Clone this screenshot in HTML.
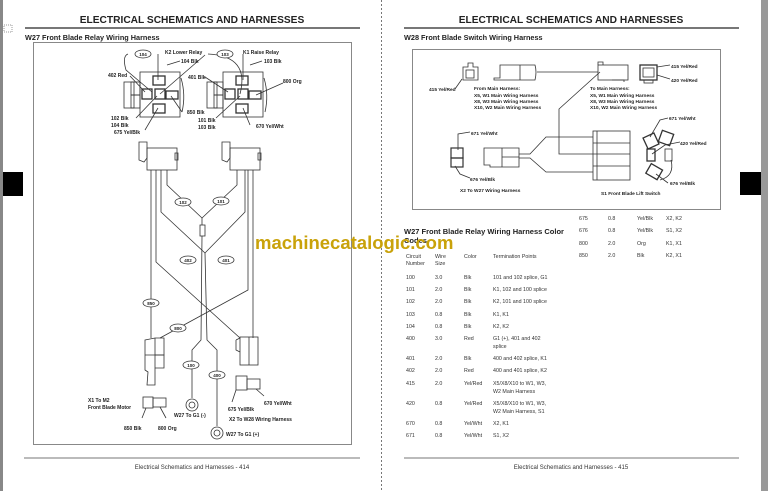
<!DOCTYPE html>
<html><head><meta charset="utf-8"><style>
html,body{margin:0;padding:0;background:#fff}
svg{display:block}
text{font-family:"Liberation Sans",Arial,sans-serif}
.b{font-weight:bold}
</style></head><body>
<svg width="768" height="491" viewBox="0 0 768 491" xmlns="http://www.w3.org/2000/svg">
<rect width="768" height="491" fill="#fff"/>
<rect x="0" y="0" width="3" height="491" fill="#888"/>
<rect x="3" y="172" width="20" height="24" fill="#000"/>
<line x1="381.5" y1="0" x2="381.5" y2="491" stroke="#777" stroke-dasharray="2,2"/>
<rect x="761" y="0" width="7" height="491" fill="#999"/>
<rect x="740" y="172" width="21" height="23" fill="#000"/>
<rect x="4" y="25" width="8" height="7" fill="none" stroke="#999" stroke-dasharray="1,1"/>

<!-- LEFT PAGE -->
<text x="192" y="23" font-size="10.2" class="b" text-anchor="middle" fill="#222">ELECTRICAL   SCHEMATICS AND HARNESSES</text>
<rect x="25" y="27" width="335" height="2" fill="#777"/>
<text x="25" y="40" font-size="7.3" class="b" fill="#222">W27 Front Blade Relay Wiring Harness</text>
<rect x="33.5" y="42.5" width="318" height="402" fill="none" stroke="#888"/>
<rect x="24" y="457.5" width="336" height="1" fill="#777"/>
<text x="192" y="469" font-size="6" text-anchor="middle" fill="#333">Electrical   Schematics and Harnesses  - 414</text>

<g stroke="#333" fill="none" stroke-width="0.8">
<rect x="140" y="72" width="40" height="45"/>
<rect x="124" y="82" width="10" height="26"/><rect x="131" y="82" width="9" height="13"/><rect x="131" y="95" width="9" height="13"/>
<rect x="153" y="76" width="12" height="9" stroke-width="1.3"/>
<rect x="142" y="89" width="10" height="10" stroke-width="1.3"/>
<rect x="155" y="89" width="10" height="10" stroke-width="1.3"/>
<rect x="166" y="91" width="12" height="8" stroke-width="1.3"/>
<rect x="153" y="104" width="12" height="9" stroke-width="1.3"/>
<path d="M181 78 Q186 95 182 112"/>
<rect x="223" y="72" width="40" height="45"/>
<rect x="207" y="82" width="10" height="26"/><rect x="214" y="82" width="9" height="13"/><rect x="214" y="95" width="9" height="13"/>
<rect x="236" y="76" width="12" height="9" stroke-width="1.3"/>
<rect x="225" y="89" width="10" height="10" stroke-width="1.3"/>
<rect x="238" y="89" width="10" height="10" stroke-width="1.3"/>
<rect x="249" y="91" width="12" height="8" stroke-width="1.3"/>
<rect x="236" y="104" width="12" height="9" stroke-width="1.3"/>
<path d="M264 78 Q269 95 265 112"/>
<path d="M128 54 Q122 56 126 70 L152 92"/><path d="M158 54 L158 80"/>
<path d="M167 65 L180 61"/><path d="M205 55 L160 94"/>
<path d="M130 76 L145 92"/><path d="M136 118 L157 96"/><path d="M145 130 L158 108"/><path d="M182 112 L171 96"/>
<path d="M208 54 Q250 56 240 94"/><path d="M243 54 L243 80"/><path d="M262 61 L250 65"/>
<path d="M205 77 L228 92"/><path d="M216 118 L240 96"/><path d="M250 125 L243 108"/><path d="M283 83 L256 95"/>
<path d="M139 142 L147 142 L147 158 L144 162 L139 160 Z"/><rect x="147" y="148" width="30" height="22"/><rect x="175" y="153" width="3" height="7"/>
<path d="M222 142 L230 142 L230 158 L227 162 L222 160 Z"/><rect x="230" y="148" width="30" height="22"/><rect x="258" y="153" width="3" height="7"/>
<path d="M151 170 L151 338"/><path d="M156 170 L156 262 L240 338"/>
<path d="M167 170 L167 185 L202 218 L237 185 L237 170"/>
<path d="M161 170 L161 212 L205 253 L245 212 L245 170"/>
<path d="M248 170 L248 290 L160 338"/><path d="M253 170 L253 338"/>
<rect x="200" y="225" width="5" height="11"/>
<path d="M202 218 L202 225"/><path d="M202 236 L201 340 L192 350 L192 398"/>
<path d="M205 253 L207 340 L217 350 L217 426"/>
<circle cx="192" cy="405" r="6"/><circle cx="192" cy="405" r="3"/>
<circle cx="217" cy="433" r="6"/><circle cx="217" cy="433" r="3"/>
<path d="M145 340 L155 338 L164 338 L164 355 L155 355 L155 385 L147 385 L148 372 L145 370 Z"/><path d="M155 355 L155 338 M145 355 L164 355 L164 368 L155 368"/>
<rect x="240" y="337" width="18" height="28"/><path d="M236 340 L240 338 M236 340 L236 350 L240 352"/><path d="M249 337 L249 365"/>
<rect x="143" y="397" width="10" height="11"/><rect x="153" y="398" width="13" height="9"/>
<path d="M146 408 L142 418 M160 407 L166 418"/>
<rect x="236" y="376" width="11" height="14"/><rect x="247" y="379" width="13" height="10"/>
<path d="M236 390 L232 402 M256 389 L264 396"/>
</g>
<g stroke="#333" fill="#fff" stroke-width="0.8">
<ellipse cx="143" cy="54" rx="8" ry="4"/><ellipse cx="225" cy="54" rx="8" ry="4"/>
<ellipse cx="183" cy="202" rx="8" ry="4"/><ellipse cx="221" cy="201" rx="8" ry="4"/>
<ellipse cx="188" cy="260" rx="8" ry="4"/><ellipse cx="226" cy="260" rx="8" ry="4"/>
<ellipse cx="151" cy="303" rx="8" ry="4"/><ellipse cx="178" cy="328" rx="8" ry="4"/>
<ellipse cx="191" cy="365" rx="8" ry="4"/><ellipse cx="217" cy="375" rx="8" ry="4"/>
</g>
<g font-size="4.5" class="b" fill="#222" text-anchor="middle">
<text x="143" y="56">104</text><text x="225" y="56">103</text>
<text x="183" y="204">102</text><text x="221" y="203">101</text>
<text x="188" y="262">402</text><text x="226" y="262">401</text>
<text x="151" y="305">850</text><text x="178" y="330">800</text>
<text x="191" y="367">100</text><text x="217" y="377">400</text>
</g>
<g font-size="5" class="b" fill="#222">
<text x="165" y="54">K2 Lower Relay</text><text x="243" y="54">K1 Raise Relay</text>
<text x="181" y="63">104 Blk</text><text x="264" y="63">103 Blk</text>
<text x="108" y="77">402 Red</text><text x="188" y="79">401 Blk</text><text x="283" y="83">800 Org</text>
<text x="111" y="120">102 Blk</text><text x="111" y="127">104 Blk</text><text x="114" y="134">675 Yel/Blk</text>
<text x="187" y="114">850 Blk</text><text x="198" y="122">101 Blk</text><text x="198" y="129">103 Blk</text><text x="256" y="128">670 Yel/Wht</text>
<text x="88" y="402">X1 To M2</text><text x="88" y="409">Front Blade Motor</text>
<text x="124" y="430">850 Blk</text><text x="158" y="430">800 Org</text>
<text x="174" y="417">W27 To G1 (-)</text><text x="226" y="436">W27 To G1 (+)</text>
<text x="228" y="411">675 Yel/Blk</text><text x="264" y="405">670 Yel/Wht</text>
<text x="229" y="421">X2 To W28 Wiring Harness</text>
</g>

<!-- RIGHT PAGE -->
<text x="571" y="23" font-size="10.2" class="b" text-anchor="middle" fill="#222">ELECTRICAL   SCHEMATICS AND HARNESSES</text>
<rect x="404" y="27" width="335" height="2" fill="#777"/>
<text x="404" y="40" font-size="7.3" class="b" fill="#222">W28 Front Blade Switch Wiring Harness</text>
<rect x="412.5" y="49.5" width="308" height="160" fill="none" stroke="#888"/>
<g stroke="#333" fill="none" stroke-width="0.8">
<path d="M463 67 L468 67 L468 63 L473 63 L473 67 L478 67 L478 80 L463 80 Z"/><rect x="466" y="70" width="8" height="8"/>
<path d="M462 79 L455 89"/>
<path d="M504 65 L535 65 Q537 72 535 80 L494 80 L494 78 L500 78 L500 65 Z M520 65 L520 80"/>
<path d="M537 72 L598 72"/>
<rect x="598" y="65" width="30" height="15"/><path d="M598 65 L598 62 L603 62 L603 65 M612 80 L624 80 L624 82"/>
<path d="M600 72 L559 109 L559 154 L593 154"/>
<rect x="640" y="65" width="17" height="15" stroke-width="1.3"/><rect x="643" y="68" width="11" height="9"/><rect x="644" y="80" width="9" height="3"/>
<path d="M657 67 L670 65 M657 75 L670 79"/>
<rect x="451" y="148" width="12" height="10" stroke-width="1.2"/><rect x="451" y="158" width="12" height="9" stroke-width="1.2"/>
<path d="M458 150 L458 134 L470 132 M455 166 L460 174 L470 178"/>
<path d="M484 148 L502 148 L502 167 L490 167 L490 165 L484 165 Z M502 148 L519 148 L519 167 L502 167 M502 157 L519 157"/>
<path d="M519 154 L530 154 L546 137 L593 137 M519 158 L530 158 L546 172 L593 172"/>
<rect x="593" y="131" width="37" height="49"/><path d="M593 143 L630 143 M593 154 L630 154 M593 166 L630 166 M597 180 L597 131"/>
<rect x="645" y="135" width="12" height="12" transform="rotate(-25 651 141)" stroke-width="1.3"/>
<rect x="660" y="132" width="12" height="12" transform="rotate(20 666 138)" stroke-width="1.3"/>
<rect x="647" y="149" width="8" height="12" stroke-width="1.3"/><rect x="665" y="149" width="7" height="12"/>
<rect x="648" y="166" width="13" height="11" transform="rotate(30 654 171)" stroke-width="1.3"/>
<path d="M671 160 Q675 176 660 180"/>
<path d="M650 137 L660 120 L668 118 M652 154 L665 145 L680 142 M656 174 L668 183"/>
</g>
<g font-size="4.8" class="b" fill="#222">
<text x="429" y="91">415 Yel/Red</text>
<text x="474" y="90">From Main Harness:</text><text x="474" y="97">X5, W1 Main Wiring Harness</text><text x="474" y="103">X8, W3 Main Wiring Harness</text><text x="474" y="109">X10, W2 Main Wiring Harness</text>
<text x="590" y="90">To Main Harness:</text><text x="590" y="97">X5, W1 Main Wiring Harness</text><text x="590" y="103">X8, W3 Main Wiring Harness</text><text x="590" y="109">X10, W2 Main Wiring Harness</text>
<text x="671" y="68">415 Yel/Red</text><text x="671" y="82">420 Yel/Red</text>
<text x="471" y="135">671 Yel/Wht</text><text x="470" y="181">676 Yel/Blk</text>
<text x="669" y="120">671 Yel/Wht</text><text x="680" y="145">420 Yel/Red</text><text x="670" y="185">676 Yel/Blk</text>
<text x="460" y="192">X2 To W27 Wiring Harness</text><text x="601" y="195">S1 Front Blade Lift Switch</text>
</g>

<text x="404" y="234" font-size="7.5" class="b" fill="#222">W27 Front Blade Relay Wiring Harness Color</text>
<text x="404" y="243" font-size="7.5" class="b" fill="#222">Codes</text>
<text x="255" y="249" font-size="18.5" class="b" fill="#c9a20a">machinecatalogic.com</text>

<g font-size="5.3" fill="#333">
<text x="406" y="258">Circuit</text><text x="406" y="265">Number</text><text x="435" y="258">Wire</text><text x="435" y="265">Size</text><text x="464" y="258">Color</text><text x="493" y="258">Termination Points</text>
<text x="406" y="279">100</text><text x="435" y="279">3.0</text><text x="464" y="279">Blk</text><text x="493" y="279">101 and 102 splice, G1</text>
<text x="406" y="291">101</text><text x="435" y="291">2.0</text><text x="464" y="291">Blk</text><text x="493" y="291">K1, 102 and 100 splice</text>
<text x="406" y="303">102</text><text x="435" y="303">2.0</text><text x="464" y="303">Blk</text><text x="493" y="303">K2, 101 and 100 splice</text>
<text x="406" y="316">103</text><text x="435" y="316">0.8</text><text x="464" y="316">Blk</text><text x="493" y="316">K1, K1</text>
<text x="406" y="328">104</text><text x="435" y="328">0.8</text><text x="464" y="328">Blk</text><text x="493" y="328">K2, K2</text>
<text x="406" y="340">400</text><text x="435" y="340">3.0</text><text x="464" y="340">Red</text><text x="493" y="340">G1 (+), 401 and 402</text><text x="493" y="348">splice</text>
<text x="406" y="360">401</text><text x="435" y="360">2.0</text><text x="464" y="360">Blk</text><text x="493" y="360">400 and 402 splice, K1</text>
<text x="406" y="372">402</text><text x="435" y="372">2.0</text><text x="464" y="372">Red</text><text x="493" y="372">400 and 401 splice, K2</text>
<text x="406" y="385">415</text><text x="435" y="385">2.0</text><text x="464" y="385">Yel/Red</text><text x="493" y="385">X5/X8/X10 to W1, W3,</text><text x="493" y="393">W2 Main Harness</text>
<text x="406" y="405">420</text><text x="435" y="405">0.8</text><text x="464" y="405">Yel/Red</text><text x="493" y="405">X5/X8/X10 to W1, W3,</text><text x="493" y="413">W2 Main Harness, S1</text>
<text x="406" y="425">670</text><text x="435" y="425">0.8</text><text x="464" y="425">Yel/Wht</text><text x="493" y="425">X2, K1</text>
<text x="406" y="437">671</text><text x="435" y="437">0.8</text><text x="464" y="437">Yel/Wht</text><text x="493" y="437">S1, X2</text>
<text x="579" y="220">675</text><text x="608" y="220">0.8</text><text x="637" y="220">Yel/Blk</text><text x="666" y="220">X2, K2</text>
<text x="579" y="232">676</text><text x="608" y="232">0.8</text><text x="637" y="232">Yel/Blk</text><text x="666" y="232">S1, X2</text>
<text x="579" y="245">800</text><text x="608" y="245">2.0</text><text x="637" y="245">Org</text><text x="666" y="245">K1, X1</text>
<text x="579" y="257">850</text><text x="608" y="257">2.0</text><text x="637" y="257">Blk</text><text x="666" y="257">K2, X1</text>
</g>
<rect x="404" y="457.5" width="335" height="1" fill="#777"/>
<text x="571" y="469" font-size="6" text-anchor="middle" fill="#333">Electrical   Schematics and Harnesses  - 415</text>
</svg>
</body></html>
